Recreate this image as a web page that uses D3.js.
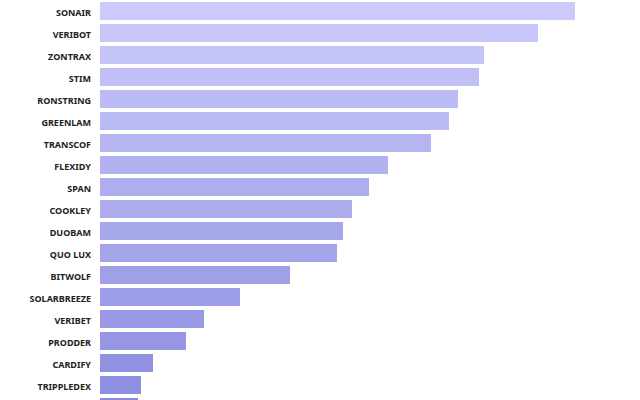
<!DOCTYPE html>
<html><head><meta charset="utf-8">
<script src="https://cdn.jsdelivr.net/npm/d3@7"></script>
<style>body{margin:0;background:#fff;overflow:hidden}svg{display:block}</style>
</head><body>
<script>
const categories = ["SONAIR","VERIBOT","ZONTRAX","STIM","RONSTRING","GREENLAM","TRANSCOF","FLEXIDY","SPAN","COOKLEY","DUOBAM","QUO LUX","BITWOLF","SOLARBREEZE","VERIBET","PRODDER","CARDIFY","TRIPPLEDEX","FINTONE"];
const values = [475,438,384,379,358,349,331,288,269,252,243,237,190,140,104,86,53,41,38];

const W = 640, H = 400;
const svg = d3.select("body").append("svg").attr("width", W).attr("height", H);
const x = d3.scaleLinear().domain([0, 475]).range([100, 575]);
const y = d3.scaleBand().domain(categories).range([0, categories.length * 22]).paddingInner(4/22).paddingOuter(2/22);
const color = d3.scaleLinear().domain([0, categories.length - 1]).range(["#cacafb", "#8b8be0"]);

svg.selectAll("rect").data(categories).join("rect")
  .attr("x", x(0)).attr("y", d => y(d))
  .attr("width", (d, i) => x(values[i]) - x(0))
  .attr("height", y.bandwidth())
  .attr("fill", (d, i) => color(i));

svg.selectAll("text.lab").data(categories.filter(d => y(d) + y.bandwidth() / 2 + 6 < H)).join("text")
  .attr("class", "lab")
  .attr("x", 91).attr("y", d => y(d) + y.bandwidth() / 2 + 1.5)
  .attr("dy", "0.35em").attr("text-anchor", "end")
  .style("font-family", "'Noto Sans', 'Open Sans', sans-serif")
  .style("font-size", "9px").style("font-weight", "bold").style("fill", "#222")
  .text(d => d);
</script>
</body></html>
